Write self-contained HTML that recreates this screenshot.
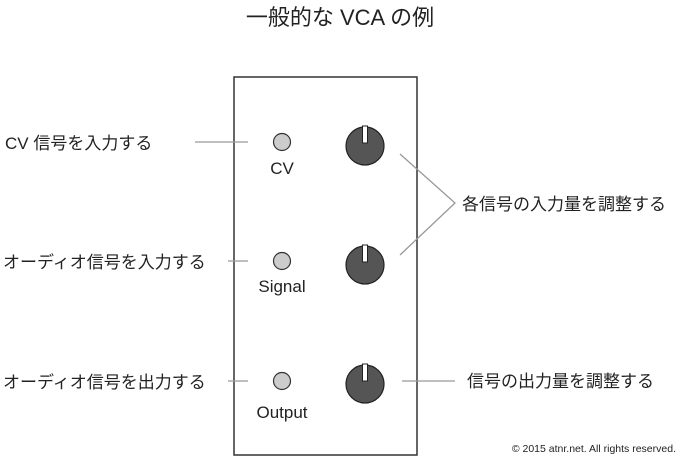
<!DOCTYPE html>
<html><head><meta charset="utf-8"><style>
body{margin:0;background:#fff;}
svg{display:block}
text{font-family:"Liberation Sans","Noto Sans CJK JP",sans-serif;fill:#222;}
</style></head><body>
<svg width="680" height="457" viewBox="0 0 680 457" xmlns="http://www.w3.org/2000/svg">
<text x="340" y="25" font-size="22" text-anchor="middle">一般的な VCA の例</text>
<rect x="234" y="77" width="183" height="378" fill="none" stroke="#333" stroke-width="1.5"/>
<g stroke="#999" stroke-width="1.3" fill="none">
<line x1="195" y1="142" x2="248" y2="142"/>
<line x1="228" y1="261" x2="248" y2="261"/>
<line x1="228" y1="381" x2="248" y2="381"/>
<polyline points="400,154 455,203 400,255"/>
<line x1="402" y1="381" x2="455" y2="381"/>
</g>
<g fill="#ccc" stroke="#333" stroke-width="1.2">
<circle cx="282" cy="142" r="8.5"/>
<circle cx="282" cy="261" r="8.5"/>
<circle cx="282" cy="381" r="8.5"/>
</g>
<g fill="#555" stroke="#222" stroke-width="1.2">
<circle cx="365" cy="146" r="19"/>
<circle cx="365" cy="265" r="19"/>
<circle cx="365" cy="384" r="19"/>
</g>
<g fill="#fff" stroke="#222" stroke-width="1">
<rect x="362.5" y="126" width="5" height="17"/>
<rect x="362.5" y="245" width="5" height="17"/>
<rect x="362.5" y="364" width="5" height="17"/>
</g>
<g font-size="17">
<text x="282" y="174" text-anchor="middle">CV</text>
<text x="282" y="292" text-anchor="middle">Signal</text>
<text x="282" y="418" text-anchor="middle">Output</text>
<text x="5" y="149">CV 信号を入力する</text>
<text x="3" y="268">オーディオ信号を入力する</text>
<text x="3" y="388">オーディオ信号を出力する</text>
<text x="462" y="210">各信号の入力量を調整する</text>
<text x="467" y="387">信号の出力量を調整する</text>
</g>
<text x="676" y="452" font-size="10.5" text-anchor="end">© 2015 atnr.net. All rights reserved.</text>
</svg>
</body></html>
